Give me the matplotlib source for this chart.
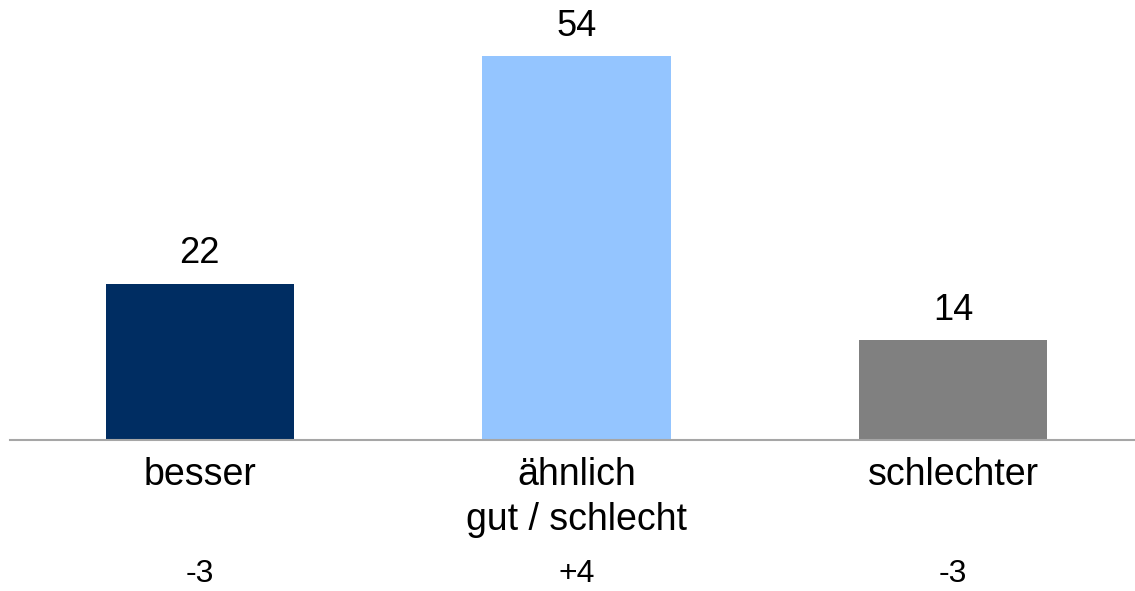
import matplotlib
matplotlib.use('Agg')
import matplotlib.pyplot as plt

plt.rcParams['font.family'] = ['Liberation Sans', 'DejaVu Sans']

categories = ['besser', 'ähnlich\ngut / schlecht', 'schlechter']
values = [22, 54, 14]
changes = ['-3', '+4', '-3']
colors = ['#002D62', '#94C5FF', '#808080']

fig = plt.figure(figsize=(11.35, 5.91), dpi=100)
ax = fig.add_axes([10/1135, 151/591, 1125/1135, 440/591])

x = range(len(values))
ax.bar(x, values, width=0.5, color=colors)
for i, v in enumerate(values):
    ax.text(i, v + 2.9, str(v), ha='center', va='baseline', fontsize=26)

ax.set_xlim(-0.504, 2.483)
ax.set_ylim(0, 61.9)
ax.set_yticks([])
ax.set_xticks([])
for s in ['top', 'right', 'left']:
    ax.spines[s].set_visible(False)
ax.spines['bottom'].set_color('#A6A6A6')
ax.spines['bottom'].set_linewidth(1.5)

# Kategorien und Veränderungen unter der Achse
for i, (c, d) in enumerate(zip(categories, changes)):
    ax.text(i, -6.4, c.split('\n')[0], ha='center', va='baseline', fontsize=27)
    if '\n' in c:
        ax.text(i, -12.6, c.split('\n')[1], ha='center', va='baseline', fontsize=27)
    ax.text(i, -20.0, d, ha='center', va='baseline', fontsize=23)

fig.savefig('out.png', dpi=100)
